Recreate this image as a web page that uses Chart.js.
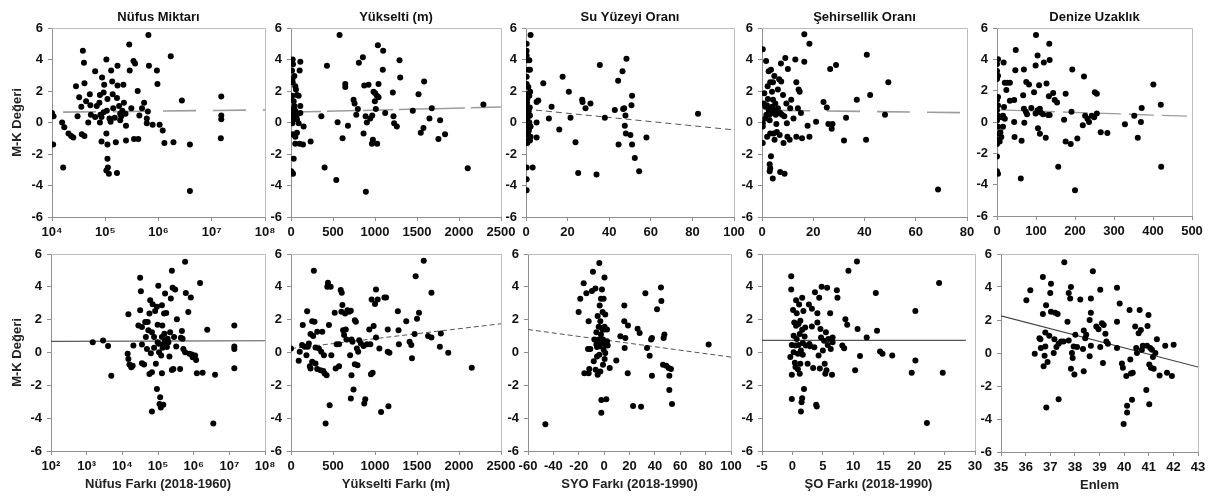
<!DOCTYPE html>
<html lang="tr">
<head>
<meta charset="utf-8">
<title>M-K Değeri saçılım grafikleri</title>
<script src="https://cdn.jsdelivr.net/npm/chart.js@4.4.1/dist/chart.umd.min.js"></script>
<style>
  html, body { margin: 0; padding: 0; background: #fff; }
  #fig { position: relative; width: 1213px; height: 503px; overflow: hidden; }
  #fig canvas { position: absolute; }
</style>
</head>
<body>
<div id="fig"></div>
<script>
// --- veri: [x, M-K değeri] ---
const nufusMiktari = [
  [10000,0.6],[10700,0.4],[10500,-1.4],[16200,-2.85],[15500,0],[17000,-0.3],[20400,-0.7],[22900,-0.85],
  [25100,-0.95],[28200,2.3],[30200,0.4],[32400,1.6],[35500,1.0],[38000,4.55],[39800,3.8],[36300,-0.75],
  [40700,-0.85],[40700,2.5],[43700,1.35],[47900,0],[51300,1.8],[52500,1.1],[53700,0.5],[64600,3.25],
  [69200,1.05],[77600,1.25],[79400,1.75],[81300,0.5],[85100,0.35],[85100,-1.2],[87100,2.85],[93300,1.9],
  [95500,2.4],[105000,4.0],[105000,-0.7],[110000,1.5],[110000,-1.4],[110000,-2.3],[112000,-2.85],
  [105000,-3.05],[117000,-3.25],[120000,0.25],[126000,0.05],[129000,3.3],[135000,2.6],[141000,0.9],
  [151000,0.3],[158000,-1.25],[166000,-3.2],[138000,1.8],[166000,1.55],[170000,3.6],[170000,2.35],
  [182000,1.05],[191000,0.55],[200000,0.4],[219000,2.4],[224000,1.25],[240000,0.55],[245000,-0.2],
  [245000,-1.15],[282000,4.95],[288000,3.3],[309000,0.9],[339000,3.9],[363000,3.75],[347000,-1.05],
  [407000,2.0],[417000,-1.05],[437000,0.45],[490000,0.9],[537000,1.25],[603000,-0.05],[631000,0.7],
  [646000,5.55],[661000,3.6],[603000,0.25],[776000,-0.15],[933000,3.3],[955000,2.45],[1050000,-0.15],
  [1200000,-0.5],[1290000,-1.3],[1700000,4.2],[1910000,-1.25],[2750000,1.4],[3890000,-1.4],[3890000,-4.35],
  [15100000,1.65],[15100000,0.45],[15100000,0.2],[14800000,-1.0],[93300,0.65],[107000,0.75],[79400,0],
  [64600,0.35],[191000,0.15],[209000,0.75]
];
const yukselti = [
  [20,4.0],[24,3.7],[12,3.3],[103,3.3],[111,3.85],[16,2.75],[20,2.55],[59,2.1],[71,1.75],[91,1.7],
  [8,1.5],[32,1.35],[40,1.05],[111,1.05],[24,0.85],[51,0.75],[12,0.5],[71,0.5],[111,0.6],[32,0.3],
  [24,0.2],[71,0.2],[16,-0.05],[91,-0.05],[150,-0.25],[20,-0.75],[51,-0.9],[71,-0.65],[103,-1.35],
  [51,-1.35],[143,-1.4],[234,-1.2],[32,-2.3],[4,-3.1],[24,-3.25],[16,-3.2],[12,1.7],[51,2.3],[40,2.95],
  [428,3.6],[361,0.4],[400,-2.85],[539,-3.65],[555,0.02],[578,5.55],[614,-1.0],[646,2.45],[646,2.25],
  [678,-0.2],[745,1.45],[757,1.2],[777,0.5],[796,0.85],[808,3.8],[856,4.15],[864,-0.7],[872,2.35],
  [888,0.4],[891,-4.4],[903,0],[923,2.4],[943,0.25],[963,-1.35],[967,0.45],[975,-1.1],[983,1.95],
  [1002,1.85],[998,1.35],[1010,0.85],[1022,1.7],[1026,-1.35],[1034,4.9],[1042,2.45],[1042,1.6],
  [1097,4.55],[1093,3.35],[1121,0.6],[1212,1.9],[1220,0.4],[1228,-0.05],[1260,-0.25],[1292,3.95],
  [1300,2.85],[1450,0.75],[1518,1.8],[1545,-0.65],[1577,-0.35],[1585,2.6],[1648,0.25],[1676,0.9],
  [1755,-1.05],[1775,0.15],[1834,-0.75],[2104,-2.9],[2290,1.15]
];
const suYuzeyi = [
  [0.3,5.0],[0.3,4.55],[0.3,4.25],[0.6,3.95],[1.6,3.95],[1.1,3.35],[1.9,3.35],[0.3,2.9],[0.3,2.45],
  [1.1,2.25],[0.3,1.8],[1.6,1.7],[0.6,1.5],[0.3,1.05],[1.1,0.85],[0.3,0.55],[1.9,0.45],[0.6,0.2],
  [1.6,0],[0.3,-0.2],[2.2,-0.25],[0.3,-0.65],[1.1,-0.8],[2.2,-0.9],[0.3,-1.15],[0.6,-1.3],[1.9,-1.15],
  [0.3,-2.85],[0.3,-3.6],[0.3,-4.3],[3.2,-2.85],[2.2,5.55],[5.1,0],[5.1,-0.95],[5.1,1.3],[5.9,1.4],
  [8.3,2.5],[11,0.25],[12.3,1.0],[16,-0.45],[17.6,2.9],[20.6,1.95],[21.4,0.3],[23.8,-1.25],[25.1,-3.2],
  [27,1.45],[27.2,1.3],[28.6,0.9],[31,1.2],[33.9,-3.3],[35.5,3.65],[37.9,0.3],[42.7,0.8],[44.3,2.65],
  [44.5,-1.4],[46.4,3.25],[46.7,0.85],[47.2,0.9],[47.5,-0.2],[47.8,0.45],[48.3,4.05],[48,-0.7],
  [50.2,-0.8],[50.7,1.1],[51,1.7],[51,-1.4],[52.3,-2.25],[54.4,-3.1],[57.9,-0.95],[82.7,0.55],
  [1.3,0.7],[0.9,0.35],[1.4,-0.5],[0.5,1.25],[1.8,0.95],[1.0,-0.05],[2.0,1.95]
];
const sehirsellik = [
  [0.3,4.65],[0.3,-1.3],[0.3,-0.05],[0.3,-0.25],[0.6,1.2],[0.9,1.85],[1.3,1.0],[1.6,3.9],[1.7,0.5],
  [2.0,-0.9],[2.2,2.3],[2.3,1.5],[2.6,3.25],[2.9,0.5],[3.0,0.15],[3.2,2.55],[3.2,-0.7],[3.5,3.35],
  [3.0,-2.65],[3.2,-2.9],[3.0,-3.1],[3.5,-2.15],[3.9,1.95],[3.9,1.0],[4.2,-3.55],[4.3,2.55],[4.3,1.45],
  [4.5,0.8],[4.5,-0.7],[4.8,2.95],[4.9,-1.1],[5.2,1.2],[5.4,0.5],[5.6,-0.1],[5.8,-0.6],[6.2,2.1],
  [6.2,0.9],[6.7,2.75],[6.9,-0.8],[7.1,-3.15],[7.4,3.75],[7.5,2.6],[7.8,0.5],[8.2,1.75],[8.4,-1.3],
  [8.7,0.4],[8.8,-3.25],[9.1,4.1],[9.5,1.2],[9.7,-0.05],[9.9,-0.9],[10.1,3.4],[10.8,-1.1],[11.0,0.9],
  [11.4,1.45],[12.3,0.25],[13.0,4.0],[13.4,2.55],[13.4,-0.9],[14.0,0.9],[14.3,2.1],[14.7,1.95],
  [15.2,0.6],[15.6,-1.0],[16.5,5.6],[16.5,3.85],[17.8,-0.2],[18.5,5.0],[18.5,-0.9],[21.1,0.05],
  [24,1.3],[25.3,0.95],[25.9,-0.1],[26.6,3.4],[27.2,-0.4],[27.5,-0.1],[28.9,3.65],[32,-1.15],[32.8,0.3],
  [37,1.45],[40.6,-1.1],[40.9,4.3],[42.2,1.75],[48,0.5],[49.3,2.55],[68.7,-4.25],
  [1.9,1.1],[2.6,0.8],[3.9,0.6],[5.8,0.6],[7.1,0.6],[1.3,0.25]
];
const denizeUzaklik = [
  [2.6,4.0],[0,3.7],[0,3.25],[2.6,2.95],[0,2.75],[2.6,1.6],[0,1.4],[2.6,1.05],[0,0.75],[2.6,0.4],
  [0,0.1],[2.6,-0.3],[0,-0.75],[2.6,-1.15],[0,-1.4],[0,-2.2],[0,-3.15],[2.6,-3.3],[6.9,-1.25],[11,-0.95],
  [8.6,-0.65],[11,0.3],[17,3.8],[20,2.5],[24,2.05],[26,2.5],[33,2.5],[18,0.95],[15.4,0.4],[20,0.2],
  [15.4,-0.3],[33,1.35],[44,1.4],[44,0],[45,-0.95],[48,4.6],[47,3.3],[63,-1.2],[61,-3.6],[67,1.7],
  [69,3.35],[69,0.85],[70,-0.05],[74,0.65],[75,2.55],[77,0.5],[82,2.4],[88,0.9],[95,1.9],[99,3.6],
  [99,0.55],[100,5.55],[104,4.25],[104,0.75],[105,-0.4],[108,2.35],[110,0.85],[110,-0.75],[112,0.6],
  [118,0.5],[120,3.8],[125,-1.0],[127,2.45],[131,0.45],[133,1.65],[134,5.0],[135,3.95],[135,0.45],
  [144,1.85],[148,1.4],[154,1.25],[157,-2.85],[172,0.15],[176,1.8],[176,-1.25],[189,-1.4],[191,0.65],
  [193,3.35],[200,-4.35],[206,-1.05],[220,-0.2],[223,2.9],[226,0.4],[232,0.2],[236,0],[243,0.4],
  [249,0.3],[251,1.9],[256,1.8],[256,0.55],[266,-0.65],[283,-0.7],[328,-0.15],[352,0.4],[361,-1.0],
  [369,0],[371,0.9],[401,2.4],[420,1.1],[421,-2.85]
];
const nufusFarki = [
  [1480,0.63],[2880,0.73],[3980,0.39],[4900,-1.41],[14800,2.33],[14100,-0.08],[14800,-0.39],[15800,-0.73],
  [17800,-0.9],[19500,-0.8],[20400,0.43],[28200,1.65],[31600,4.55],[33100,3.73],[31600,2.57],[35500,1.55],
  [35500,0.49],[35500,-0.65],[40700,-0.73],[43700,1.86],[45700,0.94],[49000,0.22],[51300,1.86],
  [53700,1.35],[57500,2.37],[57500,-1.31],[60300,3.18],[63100,-0.04],[67600,1.24],[67600,-1.2],
  [67600,-3.59],[70800,2.94],[77600,0.94],[77600,0.29],[83200,2.53],[87100,-0.69],[93300,2.78],
  [93300,-2.22],[97700,1.69],[97700,0.63],[102000,4.06],[105000,0.53],[107000,0.02],[110000,-3.14],
  [115000,-2.73],[120000,-3.35],[123000,-0.18],[129000,0.94],[129000,2.88],[129000,-1.27],[132000,1.65],
  [135000,0.29],[141000,-3.18],[141000,0.49],[148000,2.37],[151000,1.14],[158000,3.59],[158000,0.73],
  [170000,2.41],[178000,0.33],[186000,0.84],[195000,0.63],[209000,-0.24],[219000,1.24],[229000,3.29],
  [245000,4.98],[245000,-1.06],[257000,3.94],[269000,-1.0],[282000,0.94],[302000,3.84],[324000,0.37],
  [339000,2.02],[417000,-1.0],[437000,0.9],[468000,1.31],[490000,0.84],[513000,0.22],[575000,5.53],
  [575000,0.02],[603000,3.63],[708000,2.47],[759000,-0.08],[832000,3.35],[891000,-0.12],[933000,-0.29],
  [1100000,-0.18],[1170000,-0.45],[1230000,-1.27],[1510000,4.24],[1780000,-1.24],[2400000,1.39],
  [3980000,-1.35],[3550000,-4.33],[13800000,1.65],[13800000,0.37],[13800000,0.22],[13800000,-0.96]
];
const yukseltiFarki = [
  [0,0.24],[92,-0.51],[104,0.04],[132,0.45],[140,1.67],[164,0.35],[184,-0.16],[192,2.52],[200,0.35],
  [212,0.55],[224,-0.83],[232,1.12],[232,-0.98],[252,1.91],[252,-0.57],[264,1.0],[272,4.98],[280,1.87],
  [292,0.3],[292,-0.67],[312,1.26],[312,-1.0],[332,0.24],[352,-1.08],[360,0.04],[372,1.26],[384,-1.12],
  [392,-0.16],[400,-1.28],[412,-4.33],[424,-1.38],[432,4.0],[440,4.25],[452,1.67],[460,-3.21],[472,4.0],
  [480,-0.16],[520,2.42],[532,-0.98],[544,0.51],[572,0.51],[572,-0.83],[592,3.8],[600,2.48],[604,3.64],
  [612,2.89],[620,1.36],[632,1.06],[644,2.38],[652,1.4],[660,0.79],[672,2.58],[692,2.48],[704,-0.16],
  [712,2.54],[720,0.79],[720,-1.38],[712,-2.8],[732,0.65],[744,-2.26],[760,1.97],[760,-0.71],[772,1.87],
  [784,0.24],[792,-0.77],[800,0.04],[812,0.75],[832,0.55],[864,0.39],[872,-3.11],[884,-2.85],[904,0.51],
  [932,1.4],[944,0.51],[952,-1.32],[960,3.23],[972,-1.24],[984,1.61],[1000,2.95],[1012,3.84],[1012,0.91],
  [1032,3.23],[1052,0.24],[1072,-3.62],[1112,3.35],[1132,3.35],[1152,1.4],[1152,0.04],[1160,-3.27],
  [1172,-0.02],[1272,2.52],[1280,1.36],[1284,0.51],[1372,1.91],[1412,0.65],[1432,0.45],[1440,-0.35],
  [1472,1.12],[1484,4.65],[1500,2.05],[1524,2.42],[1580,5.59],[1632,1.0],[1672,0.91],[1672,3.64],
  [1772,0.35],[1784,1.16],[1872,-0.02],[2152,-0.93]
];
const syoFarki = [
  [-46.3,-4.37],[-20.1,2.46],[-18.8,3.28],[-16.1,4.22],[-15.6,-1.26],[-14,3.61],[-12.7,0.21],[-12.2,1.91],
  [-12.2,-1.26],[-11.7,-1.01],[-10.9,0.21],[-9.6,3.75],[-8.8,4.92],[-8.2,-0.54],[-7.7,0.79],[-6.9,3.9],
  [-6.7,-1.05],[-6.1,1.24],[-5.6,0.34],[-5.6,-0.24],[-5.1,2.22],[-5.1,-1.36],[-4.3,1.57],[-4.3,0.79],
  [-3.8,5.45],[-3.8,-0.13],[-3.5,2.87],[-3.5,0.38],[-3.0,1.91],[-3.0,-1.16],[-2.5,3.28],[-2.5,1.09],
  [-2.2,-3.67],[-2.2,-2.89],[-1.7,3.84],[-1.7,0.58],[-1.2,2.46],[-1.2,1.4],[-0.9,-0.75],[-0.4,3.28],
  [-0.4,0.17],[0.3,4.57],[0.3,1.57],[0.4,-0.4],[0.9,0.48],[0.9,2.32],[1.7,-2.85],[2.3,1.4],[2.8,0.42],
  [4.4,-0.95],[9.6,-0.48],[12.8,0.99],[15.9,2.87],[15.9,1.91],[16.2,0.28],[16.7,0.89],[18.8,1.65],
  [18.6,-1.26],[22.8,-3.26],[26.4,1.44],[28,1.19],[29.1,-3.3],[32.5,3.61],[33.8,0.28],[35.9,-0.2],
  [37,0.79],[37.7,0.89],[37.7,-1.42],[41.7,2.63],[44.8,3.96],[45.1,3.14],[46.4,-0.75],[46.9,0.89],
  [47.5,1.09],[49,-0.81],[50.9,-0.95],[51.4,-1.42],[51.4,-2.28],[52.7,-1.01],[53.5,-3.14],[82.4,0.48],
  [-1.7,1.5],[0.4,1.4],[-0.9,0.79],[0.9,-0.03],[-4.3,0.42],[2.3,0.68],[-6.1,0.48]
];
const soFarki = [
  [-0.35,-0.28],[-0.2,4.64],[-0.2,3.84],[-0.1,0.46],[-0.1,-1.35],[-0.1,-2.83],[0.1,2.59],[0.2,1.02],
  [0.2,0.02],[0.3,1.83],[0.4,-0.62],[0.5,-0.88],[0.5,0.42],[0.6,3.19],[0.6,1.63],[0.7,2.39],[0.7,0.82],
  [0.9,-1.02],[0.9,-0.08],[1.0,1.73],[1.0,0.46],[1.1,2.93],[1.2,-1.29],[1.2,1.12],[1.3,1.93],[1.3,-0.68],
  [1.4,0.12],[1.4,-3.59],[1.5,-3.03],[1.6,3.33],[1.6,1.39],[1.6,-2.79],[1.7,-0.14],[1.7,0.58],[1.8,2.53],
  [1.9,-2.23],[2.0,0.98],[2.1,1.53],[2.2,0.42],[2.5,-0.68],[2.7,2.93],[2.8,0.52],[2.9,0.38],[3.2,1.59],
  [3.2,2.67],[3.4,-0.94],[3.6,0.32],[3.7,3.67],[3.9,-3.19],[4.0,-3.29],[4.1,2.39],[4.1,1.83],[4.3,-0.18],
  [4.4,3.33],[4.5,-0.98],[4.6,1.43],[4.7,0.92],[4.8,4.0],[5.0,0.12],[5.2,0.72],[5.3,-0.68],[5.4,-1.29],
  [5.5,1.23],[5.6,-1.08],[5.7,3.94],[5.8,0.46],[5.9,0.82],[6.2,2.39],[6.3,0.22],[6.5,-1.35],[6.6,0.92],
  [6.6,0.62],[7.3,3.79],[7.4,3.33],[8.2,0.42],[8.5,0.26],[8.7,2.03],[9.0,1.69],[9.2,4.98],[10.3,-1.08],
  [10.6,5.54],[10.7,1.43],[11.1,-0.22],[12.2,0.92],[13.7,3.63],[13.9,1.33],[14.4,0.06],[14.8,-0.08],
  [16.4,-0.18],[19.6,-1.23],[20.2,2.53],[20.2,-0.48],[22.1,-4.3],[24.1,4.24],[24.7,-1.23]
];
const enlem = [
  [36.03,3.2],[36.19,3.8],[36.37,-0.04],[36.56,0.9],[36.6,0.84],[36.62,0.3],[36.7,4.6],[36.7,2.36],
  [36.73,-0.8],[36.77,-0.16],[36.8,1.24],[36.8,0.4],[36.83,2.9],[36.84,-3.3],[36.89,-0.54],[36.96,1.04],
  [37.0,3.64],[37.03,4.2],[37.03,2.5],[37.14,0],[37.17,0.84],[37.2,2.44],[37.25,0.36],[37.3,2.36],
  [37.34,-2.8],[37.34,0.56],[37.44,0.7],[37.54,0.7],[37.57,5.5],[37.7,1.9],[37.75,0.76],[37.75,3.64],
  [37.81,3.3],[37.84,4.0],[37.84,-0.96],[37.88,0],[37.91,-0.3],[37.95,0.4],[37.98,-1.3],[38.02,1.1],
  [38.09,0.36],[38.22,3.24],[38.33,0.24],[38.36,1.36],[38.36,-1.1],[38.42,0.9],[38.46,1.1],[38.6,-0.2],
  [38.6,2.0],[38.65,2.44],[38.65,3.3],[38.65,0.44],[38.73,4.96],[38.87,1.6],[38.96,1.44],[39.03,0.36],
  [39.03,3.84],[39.1,1.8],[39.14,-0.6],[39.17,1.7],[39.24,1.16],[39.28,0.7],[39.34,0.56],[39.71,3.96],
  [39.71,0.3],[39.71,1.9],[39.82,3.0],[39.91,-0.64],[39.95,-0.9],[39.98,-4.3],[40.09,-1.4],[40.12,-3.2],
  [40.12,-3.6],[40.22,2.6],[40.25,-0.4],[40.28,-1.24],[40.32,-2.84],[40.35,-1.2],[40.45,1.6],[40.49,0.3],
  [40.52,0],[40.59,1.2],[40.63,2.6],[40.68,1.4],[40.72,0.2],[40.76,0.44],[40.9,-2.24],[40.93,0.44],
  [40.95,1.64],[40.99,2.3],[41.02,-3.1],[41.02,-0.7],[41.06,0.3],[41.09,-0.9],[41.13,0.2],[41.17,-0.24],
  [41.2,-0.96],[41.27,0],[41.33,0.84],[41.44,-1.36],[41.67,0.44],[41.74,-1.2],[41.94,-1.4],[42.01,0.5]
];

// eğilim çizgileri (uç noktalar)
const trendNufusMiktari  = [[1e4, 0.65], [1e8, 0.8]];
const trendYukselti      = [[0, 0.66], [2500, 0.98]];
const trendSuYuzeyi      = [[0, 0.85], [100, -0.47]];
const trendSehirsellik   = [[0, 0.78], [80, 0.62]];
const trendDenize        = [[0, 0.78], [500, 0.36]];
const trendNufusFarki    = [[1e2, 0.68], [1e8, 0.72]];
const trendYukseltiFarki = [[0, 0.24], [2500, 1.75]];
const trendSyoFarki      = [[-60, 1.4], [100, -0.28]];
const trendSoFarki       = [[-5, 0.74], [28.5, 0.74]];
const trendEnlem         = [[35, 2.25], [43, -0.85]];

const logTicksTop    = [1e4, 1e5, 1e6, 1e7, 1e8];
const logLabelsTop   = ['10⁴', '10⁵', '10⁶', '10⁷', '10⁸'];
const logTicksBottom = [1e2, 1e3, 1e4, 1e5, 1e6, 1e7, 1e8];
const logLabelsBottom = ['10²', '10³', '10⁴', '10⁵', '10⁶', '10⁷', '10⁸'];

const topTitles = ['Nüfus Miktarı', 'Yükselti (m)', 'Su Yüzeyi Oranı', 'Şehirsellik Oranı', 'Denize Uzaklık'];
const bottomTitles = ['Nüfus Farkı (2018-1960)', 'Yükselti Farkı (m)', 'SYO Farkı (2018-1990)', 'ŞO Farkı (2018-1990)', 'Enlem'];
const yTitle = 'M-K Değeri';

// --- görünüm ---
const FONT = "'Liberation Sans', Arial, sans-serif";
const tickFont  = { family: FONT, size: 13, weight: 'bold' };
const titleFont = { family: FONT, size: 13, weight: 'bold', lineHeight: 1.2 };
const axisClr = '#8f8f8f';
const boxClr  = '#bdbdbd';

const panels = [
  { title: topTitles[0], pts: nufusMiktari, trend: trendNufusMiktari, box: [52, 28, 265, 217],
    log: logTicksTop, logLabels: logLabelsTop, line: { c: '#9c9c9c', w: 1.6, dash: [33, 17], off: 39 } },
  { title: topTitles[1], pts: yukselti, trend: trendYukselti, box: [291, 28, 501, 217],
    range: [0, 2500, 500], line: { c: '#9c9c9c', w: 1.5, dash: [30, 6], off: 0 } },
  { title: topTitles[2], pts: suYuzeyi, trend: trendSuYuzeyi, box: [526, 28, 734, 217],
    range: [0, 100, 20], line: { c: '#555', w: 1, dash: [6, 4], off: 0 } },
  { title: topTitles[3], pts: sehirsellik, trend: trendSehirsellik, box: [762, 28, 967, 217],
    range: [0, 80, 20], line: { c: '#9c9c9c', w: 1.6, dash: [33, 17], off: 35 } },
  { title: topTitles[4], pts: denizeUzaklik, trend: trendDenize, box: [997, 28, 1192, 216],
    range: [0, 500, 100], line: { c: '#9c9c9c', w: 1.3, dash: [25, 8], off: 0 } },

  { xTitle: bottomTitles[0], pts: nufusFarki, trend: trendNufusFarki, box: [51, 254, 265, 451],
    log: logTicksBottom, logLabels: logLabelsBottom, line: { c: '#555', w: 1.1, dash: [], off: 0 } },
  { xTitle: bottomTitles[1], pts: yukseltiFarki, trend: trendYukseltiFarki, box: [291, 254, 501, 451],
    range: [0, 2500, 500], line: { c: '#555', w: 1, dash: [5, 3], off: 0 } },
  { xTitle: bottomTitles[2], pts: syoFarki, trend: trendSyoFarki, box: [528, 254, 731, 451],
    range: [-60, 100, 20], line: { c: '#555', w: 1, dash: [5, 3], off: 0 } },
  { xTitle: bottomTitles[3], pts: soFarki, trend: trendSoFarki, box: [762, 254, 975, 451],
    range: [-5, 30, 5], line: { c: '#555', w: 1.1, dash: [], off: 0 } },
  { xTitle: bottomTitles[4], pts: enlem, trend: trendEnlem, box: [1001, 254, 1198, 452],
    range: [35, 43, 1], line: { c: '#444', w: 1.2, dash: [], off: 0 } },
];

// üst/sağ çerçeve + panel başlığı
const framePlugin = {
  id: 'frame',
  beforeDatasetsDraw(chart) {
    const { ctx, chartArea: a } = chart;
    ctx.save();
    ctx.strokeStyle = boxClr;
    ctx.lineWidth = 1;
    ctx.beginPath();
    ctx.moveTo(a.left, Math.floor(a.top) + 0.5);
    ctx.lineTo(Math.floor(a.right) + 0.5, Math.floor(a.top) + 0.5);
    ctx.lineTo(Math.floor(a.right) + 0.5, a.bottom);
    ctx.stroke();
    ctx.restore();
  },
  afterDraw(chart, _args, opts) {
    if (!opts.text) return;
    const { ctx, chartArea: a } = chart;
    ctx.save();
    ctx.font = `bold 13px ${FONT}`;
    ctx.fillStyle = '#111';
    ctx.textAlign = 'center';
    ctx.textBaseline = 'middle';
    ctx.fillText(opts.text, (a.left + a.right) / 2, a.top - 11);
    ctx.restore();
  }
};

function xScale(p, xh) {
  const s = {
    border: { color: axisClr, width: 1 },
    grid: { drawOnChartArea: false, drawTicks: true, tickLength: 4, color: axisClr },
    ticks: { font: tickFont, color: '#111', padding: 4, maxRotation: 0, autoSkip: false },
    title: p.xTitle
      ? { display: true, text: p.xTitle, font: titleFont, color: '#222', padding: { top: 0, bottom: 9 } }
      : { display: false },
    afterFit: sc => { sc.height = xh; sc.paddingLeft = 0; sc.paddingRight = 0; },
  };
  if (p.log) {
    s.type = 'logarithmic';
    s.min = p.log[0];
    s.max = p.log[p.log.length - 1];
    s.afterBuildTicks = sc => { sc.ticks = p.log.map(v => ({ value: v })); };
    s.ticks.callback = (_v, k) => p.logLabels[k];
  } else {
    s.type = 'linear';
    s.min = p.range[0];
    s.max = p.range[1];
    s.ticks.stepSize = p.range[2];
    s.ticks.callback = v => String(v);
  }
  return s;
}

const fig = document.getElementById('fig');

panels.forEach((p, i) => {
  const [l, t, r, b] = p.box;
  const isTop = i < 5;
  const firstCol = i % 5 === 0;
  const yw = firstCol ? l : 48;
  const padTop = isTop ? 24 : 10;
  const padRight = 22;
  const xh = isTop ? 24 : 50;
  const cl = l - yw, ct = t - padTop;
  const w = r - cl + padRight, h = b - ct + xh;

  const cv = document.createElement('canvas');
  cv.width = w; cv.height = h;
  cv.style.left = cl + 'px';
  cv.style.top = ct + 'px';
  cv.style.width = w + 'px';
  cv.style.height = h + 'px';
  fig.appendChild(cv);

  new Chart(cv, {
    type: 'scatter',
    data: {
      datasets: [
        {
          data: p.pts.map(([x, y]) => ({ x, y })),
          backgroundColor: '#000',
          borderColor: '#000',
          borderWidth: 0,
          pointRadius: 3,
          pointHoverRadius: 3,
        },
        {
          data: p.trend.map(([x, y]) => ({ x, y })),
          showLine: true,
          pointRadius: 0,
          borderColor: p.line.c,
          borderWidth: p.line.w,
          borderDash: p.line.dash,
          borderDashOffset: p.line.off,
          fill: false,
        },
      ],
    },
    options: {
      responsive: false,
      animation: false,
      events: [],
      layout: { padding: { top: padTop, right: padRight, left: 0, bottom: 0 } },
      plugins: {
        legend: { display: false },
        tooltip: { enabled: false },
        frame: { text: p.title || '' },
      },
      scales: {
        x: xScale(p, xh),
        y: {
          type: 'linear', min: -6, max: 6,
          border: { color: axisClr, width: 1 },
          grid: { drawOnChartArea: false, drawTicks: true, tickLength: 4, color: axisClr },
          ticks: { stepSize: 2, font: tickFont, color: '#111', padding: 5, callback: v => String(v) },
          title: firstCol
            ? { display: true, text: yTitle, font: titleFont, color: '#222', padding: { top: 10, bottom: 0 } }
            : { display: false },
          afterFit: sc => { sc.width = yw; sc.paddingTop = 0; sc.paddingBottom = 0; },
        },
      },
    },
    plugins: [framePlugin],
  });
});
</script>
</body>
</html>
